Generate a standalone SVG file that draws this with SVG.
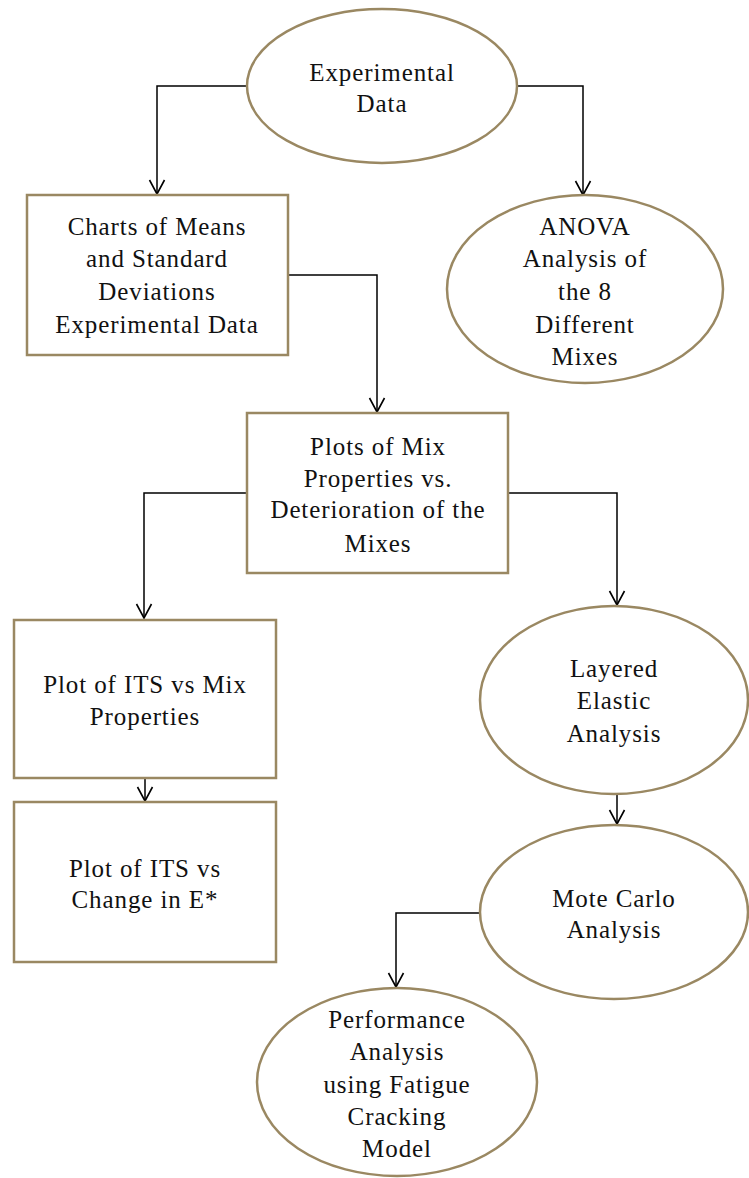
<svg xmlns="http://www.w3.org/2000/svg" width="749" height="1178" viewBox="0 0 749 1178">
<style>
.n{fill:#ffffff;stroke:#9a8862;stroke-width:2.5}
.t{font-family:'Liberation Serif','Times New Roman',serif;font-size:25px;fill:#111111;text-anchor:middle;letter-spacing:0.9px}
.c{fill:none;stroke:#000000;stroke-width:1.5;marker-end:url(#arr)}
</style>
<defs>
<marker id="arr" markerUnits="userSpaceOnUse" markerWidth="18" markerHeight="18" viewBox="-16 -9 18 18" refX="0" refY="0" orient="auto" overflow="visible">
<path d="M-14,-7.5 L0,0 L-14,7.5" fill="none" stroke="#000000" stroke-width="1.6"/>
</marker>
</defs>
<rect width="749" height="1178" fill="#ffffff"/>
<g id="connectors">
<path class="c" d="M247,86 H157 V194"/>
<path class="c" d="M517,86 H583 V195"/>
<path class="c" d="M288,275 H377 V412"/>
<path class="c" d="M247,493 H144 V618"/>
<path class="c" d="M508,493 H617 V605"/>
<path class="c" d="M145,778 V801"/>
<path class="c" d="M617,795 V824"/>
<path class="c" d="M480,913 H396 V987"/>
</g>
<g id="experimental-data">
<ellipse class="n" cx="382" cy="86" rx="135" ry="77"/>
<text class="t" x="382" y="81">Experimental</text>
<text class="t" x="382" y="112">Data</text>
</g>
<g id="charts">
<rect class="n" x="27" y="195" width="261" height="160"/>
<text class="t" x="157" y="235">Charts of Means</text>
<text class="t" x="157" y="267">and Standard</text>
<text class="t" x="157" y="300">Deviations</text>
<text class="t" x="157" y="333">Experimental Data</text>
</g>
<g id="anova">
<ellipse class="n" cx="585" cy="289" rx="138" ry="94"/>
<text class="t" x="585" y="235">ANOVA</text>
<text class="t" x="585" y="267">Analysis of</text>
<text class="t" x="585" y="300">the 8</text>
<text class="t" x="585" y="333">Different</text>
<text class="t" x="585" y="365">Mixes</text>
</g>
<g id="plots">
<rect class="n" x="247" y="413" width="261" height="160"/>
<text class="t" x="378" y="455">Plots of Mix</text>
<text class="t" x="378" y="487">Properties vs.</text>
<text class="t" x="378" y="518">Deterioration of the</text>
<text class="t" x="378" y="552">Mixes</text>
</g>
<g id="its-mix">
<rect class="n" x="14" y="620" width="262" height="158"/>
<text class="t" x="145" y="693">Plot of ITS vs Mix</text>
<text class="t" x="145" y="725">Properties</text>
</g>
<g id="its-change">
<rect class="n" x="14" y="802" width="262" height="160"/>
<text class="t" x="145" y="877">Plot of ITS vs</text>
<text class="t" x="145" y="908">Change in E*</text>
</g>
<g id="layered">
<ellipse class="n" cx="614" cy="700" rx="134" ry="94"/>
<text class="t" x="614" y="677">Layered</text>
<text class="t" x="614" y="709">Elastic</text>
<text class="t" x="614" y="742">Analysis</text>
</g>
<g id="monte-carlo">
<ellipse class="n" cx="614" cy="912" rx="134" ry="87"/>
<text class="t" x="614" y="907">Mote Carlo</text>
<text class="t" x="614" y="938">Analysis</text>
</g>
<g id="performance">
<ellipse class="n" cx="397" cy="1082" rx="140" ry="94"/>
<text class="t" x="397" y="1028">Performance</text>
<text class="t" x="397" y="1060">Analysis</text>
<text class="t" x="397" y="1093">using Fatigue</text>
<text class="t" x="397" y="1125">Cracking</text>
<text class="t" x="397" y="1157">Model</text>
</g>
</svg>
